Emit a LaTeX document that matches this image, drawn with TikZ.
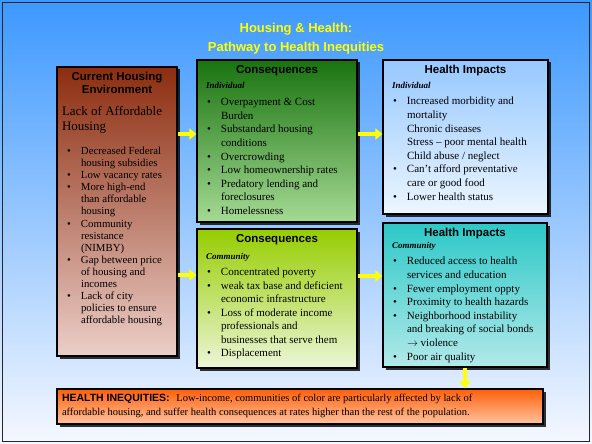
\documentclass[tikz,border=0pt]{standalone}
\usepackage{fontspec}
\setmainfont{Liberation Serif}
\setsansfont{Liberation Sans}
\usetikzlibrary{positioning,shadows,arrows.meta}

\definecolor{bgtop}{RGB}{60,152,255}
\definecolor{bgmid}{RGB}{165,203,255}
\definecolor{bgbot}{RGB}{246,248,255}
\definecolor{rusttop}{RGB}{140,45,15}
\definecolor{rustbot}{RGB}{236,206,200}
\definecolor{greentop}{RGB}{25,115,15}
\definecolor{greenbot}{RGB}{165,218,148}
\definecolor{limetop}{RGB}{150,205,0}
\definecolor{limebot}{RGB}{236,246,215}
\definecolor{skytop}{RGB}{150,200,255}
\definecolor{skybot}{RGB}{236,246,255}
\definecolor{tealtop}{RGB}{45,200,200}
\definecolor{tealbot}{RGB}{178,233,233}
\definecolor{orangetop}{RGB}{255,95,10}
\definecolor{orangebot}{RGB}{255,196,160}
\definecolor{titleyellow}{RGB}{255,255,0}

% panel text helpers
\newcommand{\panelbody}[3]{\begin{minipage}[c][#2][t]{#1}\raggedright #3\end{minipage}}
\newcommand{\phead}[1]{{\centering\sffamily\bfseries\fontsize{11.5}{13}\selectfont #1\par}}
\newcommand{\ptag}[1]{{\hspace*{4pt}\bfseries\itshape\fontsize{9}{11}\selectfont #1\par}}
\newcommand{\bitem}[1]{\par{\let\\\newline\hangindent=19pt\hangafter=1\noindent\hspace*{5pt}\makebox[14pt][l]{\textbullet}#1\par}}

\begin{document}
\begin{tikzpicture}[
    x=1pt, y=-1pt,
    panel/.style={
        draw=black,
        line width=1.2pt,
        inner sep=5pt,
        drop shadow={shadow xshift=2.5pt, shadow yshift=-2.5pt, fill=black, opacity=0.8}
    },
    flowarrow/.style={-{Triangle[length=7pt,width=11pt]}, line width=4.5pt, draw=titleyellow}
]
    % Background and frame
    \useasboundingbox (0,0) rectangle (592,444);
    \shade[top color=bgtop, middle color=bgmid, bottom color=bgbot] (0,0) rectangle (592,444);
    \draw[line width=1.5pt, black!85] (2.5,2.5) rectangle (589.5,441.5);

    % Title
    \node[font=\sffamily\bfseries\fontsize{13}{18.5}\selectfont, text=titleyellow, align=center] (title) at (296,38.5)
        {Housing \& Health:\\Pathway to Health Inequities};

    % Left column
    \node[panel, top color=rusttop, bottom color=rustbot, minimum width=120pt, minimum height=289pt] (curr) at (117,211.5)
        {\panelbody{110pt}{279pt}{%
            \phead{Current Housing\\Environment}
            \vspace{7pt}
            {\fontsize{13}{15}\selectfont Lack of Affordable\\Housing\par}
            \vspace{12pt}
            \fontsize{10.8}{12.1}\selectfont
            \bitem{Decreased Federal\\housing subsidies}
            \bitem{Low vacancy rates}
            \bitem{More high-end\\than affordable\\housing}
            \bitem{Community\\resistance\\(NIMBY)}
            \bitem{Gap between price\\of housing and\\incomes}
            \bitem{Lack of city\\policies to ensure\\affordable housing}
        }};

    % Middle column
    \node[panel, top color=greentop, bottom color=greenbot, minimum width=160pt, minimum height=162pt] (indcons) at (277,141)
        {\panelbody{150pt}{152pt}{%
            \phead{Consequences}
            \vspace{4pt}
            \ptag{Individual}
            \vspace{4pt}
            \fontsize{11}{13.6}\selectfont
            \bitem{Overpayment \& Cost\\Burden}
            \bitem{Substandard housing\\conditions}
            \bitem{Overcrowding}
            \bitem{Low homeownership rates}
            \bitem{Predatory lending and\\foreclosures}
            \bitem{Homelessness}
        }};
    \node[panel, top color=limetop, bottom color=limebot, minimum width=160pt, minimum height=139pt] (comcons) at (277,298.5)
        {\panelbody{150pt}{129pt}{%
            \phead{Consequences}
            \vspace{6pt}
            \ptag{Community}
            \vspace{3pt}
            \fontsize{11}{13.5}\selectfont
            \bitem{Concentrated poverty}
            \bitem{weak tax base and deficient\\economic infrastructure}
            \bitem{Loss of moderate income\\professionals and\\businesses that serve them}
            \bitem{Displacement}
        }};

    % Right column
    \node[panel, top color=skytop, bottom color=skybot, minimum width=165pt, minimum height=154pt] (indhealth) at (465.5,137)
        {\panelbody{155pt}{144pt}{%
            \phead{Health Impacts}
            \vspace{4pt}
            \ptag{Individual}
            \vspace{3pt}
            \fontsize{11}{13.6}\selectfont
            \bitem{Increased morbidity and\\mortality\\Chronic diseases\\Stress -- poor mental health\\Child abuse / neglect}
            \bitem{Can't afford preventative\\care or good food}
            \bitem{Lower health status}
        }};
    \node[panel, top color=tealtop, bottom color=tealbot, minimum width=164pt, minimum height=144pt] (comhealth) at (465,295)
        {\panelbody{154pt}{134pt}{%
            \phead{Health Impacts}
            \vspace{1pt}
            \ptag{Community}
            \vspace{3pt}
            \fontsize{11}{13.6}\selectfont
            \bitem{Reduced access to health\\services and education}
            \bitem{Fewer employment oppty}
            \bitem{Proximity to health hazards}
            \bitem{Neighborhood instability\\and breaking of social bonds\\$\rightarrow$ violence}
            \bitem{Poor air quality}
        }};

    % Bottom banner
    \node[panel, top color=orangetop, bottom color=orangebot, minimum width=486pt, minimum height=35pt] (ineq) at (300,406.5)
        {\panelbody{476pt}{25pt}{%
            \fontsize{10.5}{14.5}\selectfont
            {\sffamily\bfseries HEALTH INEQUITIES:}\hspace{4pt} Low-income, communities of color are particularly affected by lack of\\
            affordable housing, and suffer health consequences at rates higher than the rest of the population.
        }};

    % Yellow flow arrows
    \coordinate (a1) at ([yshift=7pt]indcons.west);
    \coordinate (a2) at ([yshift=23.5pt]comcons.west);
    \coordinate (a3) at ([yshift=3pt]indhealth.west);
    \coordinate (a4) at ([yshift=19pt]comhealth.west);
    \draw[flowarrow] (curr.east |- a1) -- (a1);
    \draw[flowarrow] (curr.east |- a2) -- (a2);
    \draw[flowarrow] (indcons.east |- a3) -- (a3);
    \draw[flowarrow] (comcons.east |- a4) -- (a4);
    \draw[flowarrow] (comhealth.south) -- (comhealth.south |- ineq.north);
\end{tikzpicture}
\end{document}
